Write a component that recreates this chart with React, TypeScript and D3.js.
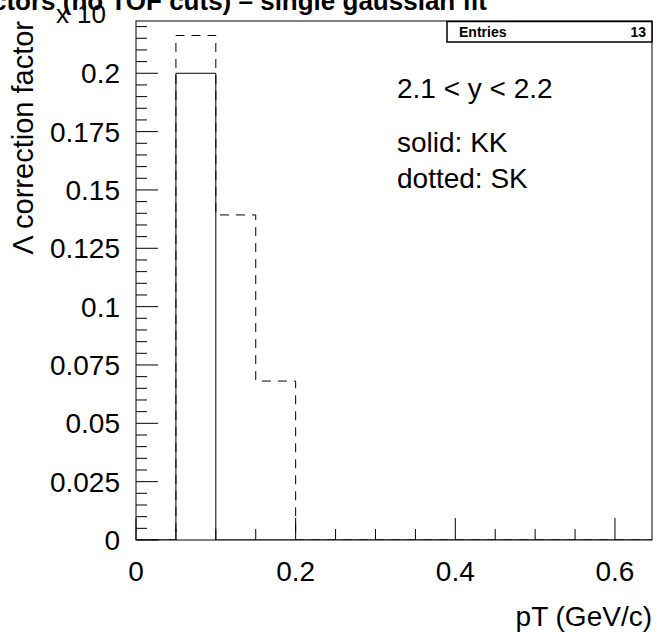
import React from "react";
import * as d3 from "d3";

const binStarts = [0, 0.05, 0.1, 0.15, 0.2, 0.25, 0.3, 0.35, 0.4, 0.45, 0.5, 0.55, 0.6];
const binWidth = 0.05;
const kkValues = [0, 0.2, 0, 0, 0, 0, 0, 0, 0, 0, 0, 0, 0];
const skValues = [0, 0.2162, 0.1393, 0.0681, 0, 0, 0, 0, 0, 0, 0, 0, 0];
const xTickLabels = ["0", "0.2", "0.4", "0.6"];
const xMajorTicks = [0, 0.2, 0.4, 0.6];
const yTickLabels = ["0", "0.025", "0.05", "0.075", "0.1", "0.125", "0.15", "0.175", "0.2"];
const yMajorTicks = [0, 0.025, 0.05, 0.075, 0.1, 0.125, 0.15, 0.175, 0.2];
const textLines = ["2.1 < y < 2.2", "solid: KK", "dotted: SK"];
const entries = 13;

const W = 661;
const H = 632;
const FL = 136, FR = 652, FT = 21, FB = 540;
const FONT = "'Liberation Sans', Arial, Helvetica, sans-serif";

export default function App() {
  const x = d3.scaleLinear().domain([0, 0.6464]).range([FL, FR]);
  const y = d3.scaleLinear().domain([0, 0.2224]).range([FB, FT]);

  const stepPts = (vals: number[]) => {
    const pts: [number, number][] = [[0, 0]];
    binStarts.forEach((b, i) => {
      pts.push([b, vals[i]]);
      pts.push([b + binWidth, vals[i]]);
    });
    return pts;
  };
  const line = d3
    .line<[number, number]>()
    .x((d) => x(d[0]))
    .y((d) => y(d[1]));

  const xMinor = d3.range(0, 0.6464, 0.05).filter((v) => !xMajorTicks.some((m) => Math.abs(m - v) < 1e-9));
  const yMinor = d3.range(0, 0.2224, 0.005).filter((v) => !yMajorTicks.some((m) => Math.abs(m - v) < 1e-9));

  return (
    <svg width={W} height={H} style={{ position: "absolute", left: 0, top: 0, background: "#fff" }} fontFamily={FONT}>
      <defs>
        <clipPath id="frameClip">
          <rect x={FL} y={FT} width={FR - FL} height={FB - FT} />
        </clipPath>
      </defs>
      <rect x={0} y={0} width={W} height={H} fill="#fff" />
      {/* title */}
      <text x={487} y={10} textAnchor="end" fontSize={26} fontWeight="bold" fill="#000">
        ctors (no TOF cuts) – single gaussian fit
      </text>
      {/* histograms */}
      <g clipPath="url(#frameClip)" fill="none">
        <path d={line(stepPts(skValues)) || ""} stroke="#000" strokeWidth={1} strokeDasharray="9,7" />
        <path d={line(stepPts(kkValues)) || ""} stroke="#000" strokeWidth={1} />
      </g>
      {/* frame */}
      <rect x={FL} y={FT} width={FR - FL} height={FB - FT} fill="none" stroke="#000" strokeWidth={1} />
      {/* x ticks */}
      {xMajorTicks.map((v) => (
        <line key={"xM" + v} x1={x(v)} x2={x(v)} y1={FB} y2={FB - 22} stroke="#000" />
      ))}
      {xMinor.map((v) => (
        <line key={"xm" + v} x1={x(v)} x2={x(v)} y1={FB} y2={FB - 11} stroke="#000" />
      ))}
      {xMajorTicks.map((v, i) => (
        <text key={"xl" + v} x={x(v)} y={581} textAnchor="middle" fontSize={28} fill="#000">
          {xTickLabels[i]}
        </text>
      ))}
      {/* y ticks */}
      {yMajorTicks.map((v) => (
        <line key={"yM" + v} x1={FL} x2={FL + 22} y1={y(v)} y2={y(v)} stroke="#000" />
      ))}
      {yMinor.map((v) => (
        <line key={"ym" + v} x1={FL} x2={FL + 11} y1={y(v)} y2={y(v)} stroke="#000" />
      ))}
      {yMajorTicks.map((v, i) => (
        <text key={"yl" + v} x={120} y={y(v)} dy="0.36em" textAnchor="end" fontSize={28} fill="#000">
          {yTickLabels[i]}
        </text>
      ))}
      {/* exponent */}
      <text x={56} y={23} fontSize={26} fill="#000">x</text>
      <text x={77} y={23} fontSize={26} fill="#000">10</text>
      {/* axis titles */}
      <text x={652} y={626} textAnchor="end" fontSize={28} fill="#000">
        pT (GeV/c)
      </text>
      <text transform={`translate(33,21) rotate(-90)`} textAnchor="end" fontSize={29} fill="#000">
        Λ correction factor
      </text>
      {/* stats box */}
      <rect x={447} y={21.5} width={205} height={20.5} fill="#fff" stroke="#000" strokeWidth={1.5} />
      <text x={459} y={36.5} fontSize={14} fontWeight="bold" fill="#000">Entries</text>
      <text x={646} y={36.5} textAnchor="end" fontSize={14} fontWeight="bold" fill="#000">{entries}</text>
      {/* annotation */}
      {textLines.map((t, i) => (
        <text key={t} x={397} y={[98, 152, 188][i]} fontSize={28} fill="#000">
          {t}
        </text>
      ))}
    </svg>
  );
}
